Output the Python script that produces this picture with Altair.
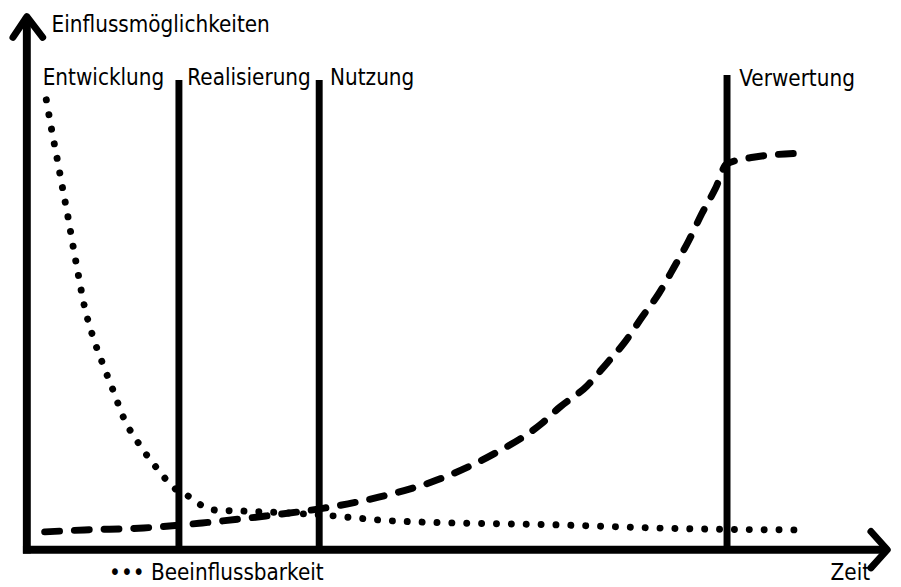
import altair as alt
import pandas as pd

# ---- data (chart units: time 0..100, influence 0..100) ----
dot_x = [2.26, 2.87, 3.53, 4.14, 4.79, 5.37, 5.98, 6.67, 7.59, 8.74, 10.0, 11.23, 12.99,
         15.02, 17.13, 18.74, 20.23, 21.84, 25.29, 34.25, 42.64, 61.84, 77.36, 89.43]
dot_y = [84.07, 78.52, 72.96, 67.59, 62.04, 56.67, 51.30, 45.56, 40.19, 35.0, 29.81, 24.63,
         19.81, 15.37, 11.48, 10.0, 8.33, 7.41, 7.22, 6.48, 5.37, 4.63, 3.89, 3.70]

dash_x = [2.07, 6.67, 13.56, 20.34, 27.70, 34.48, 40.80, 47.47, 53.79, 59.66, 61.84, 64.94,
          67.36, 69.31, 71.38, 73.33, 75.06, 76.78, 78.28, 79.89, 81.15, 84.25, 89.43]
dash_y = [3.33, 3.70, 4.07, 5.0, 6.30, 7.78, 9.81, 12.96, 17.59, 23.52, 26.67, 30.56,
          35.0, 38.70, 43.52, 47.96, 52.78, 57.78, 62.78, 67.59, 72.04, 73.33, 74.07]

phase_x = [17.64, 33.91, 81.21]
phase_top = [87.78, 87.78, 88.7]

labels = ["Einflussmöglichkeiten", "Entwicklung", "Realisierung", "Nutzung", "Verwertung",
          "••• Beeinflussbarkeit", "Zeit"]
label_x = [2.874, 1.839, 18.62, 35.17, 82.64, 9.54, 93.22]
label_y = [96.67, 86.85, 86.85, 86.85, 86.67, -5.74, -5.74]

arrow_u = [-1.61, 0.0, 1.84, 97.9, 99.8, 97.9]
arrow_v = [95.74, 99.6, 95.74, 3.4, 0.0, -3.4]
arrow_id = ["y", "y", "y", "x", "x", "x"]

# ---- scales ----
xs = alt.Scale(domain=[-2.1839, 100.46], nice=False, zero=False)
ys = alt.Scale(domain=[-6.481, 100.74], nice=False, zero=False)

font = "DejaVu Sans Condensed, Liberation Sans Narrow, sans-serif"

dots = pd.DataFrame({"x": dot_x, "y": dot_y, "i": range(len(dot_x))})
dashes = pd.DataFrame({"x": dash_x, "y": dash_y, "i": range(len(dash_x))})
phases = pd.DataFrame({"x": phase_x, "top": phase_top, "bottom": [0] * 3})
texts = pd.DataFrame({"x": label_x, "y": label_y, "t": labels})
axes = pd.DataFrame({
    "x": [0, -0.45], "x2": [0, 99.8],
    "y": [-0.7, 0], "y2": [99.6, 0],
})
arrows = pd.DataFrame({"x": arrow_u, "y": arrow_v, "id": arrow_id, "i": range(6)})

X = lambda f: alt.X(f, type="quantitative", scale=xs, axis=None)
Y = lambda f: alt.Y(f, type="quantitative", scale=ys, axis=None)

phase_layer = alt.Chart(phases).mark_rule(color="black", strokeWidth=7, strokeCap="butt").encode(
    x=X("x"), y=Y("bottom"), y2="top")

axis_layer = alt.Chart(axes).mark_rule(color="black", strokeWidth=8, strokeCap="butt").encode(
    x=X("x"), x2="x2", y=Y("y"), y2="y2")

arrow_layer = alt.Chart(arrows).mark_line(color="black", strokeWidth=7, strokeCap="round",
                                          strokeJoin="round").encode(
    x=X("x"), y=Y("y"), detail="id:N", order="i:Q")

dot_layer = alt.Chart(dots).mark_line(color="black", strokeWidth=7, strokeCap="round",
                                      strokeDash=[0.01, 15], interpolate="monotone").encode(
    x=X("x"), y=Y("y"), order="i:Q")

dash_layer = alt.Chart(dashes).mark_line(color="black", strokeWidth=7, strokeCap="round",
                                         strokeDash=[15, 15], interpolate="monotone").encode(
    x=X("x"), y=Y("y"), order="i:Q")

text_layer = alt.Chart(texts).mark_text(align="left", baseline="alphabetic", font=font,
                                        fontSize=22.5, color="black").encode(
    x=X("x"), y=Y("y"), text="t:N")

chart = alt.layer(phase_layer, axis_layer, arrow_layer, dot_layer, dash_layer, text_layer).properties(
    width=893, height=579, padding=0, autosize=alt.AutoSizeParams(type="none"),
    background="white",
).configure_view(stroke=None)

chart.save("out.html", embed_options={"renderer": "svg", "actions": False})
